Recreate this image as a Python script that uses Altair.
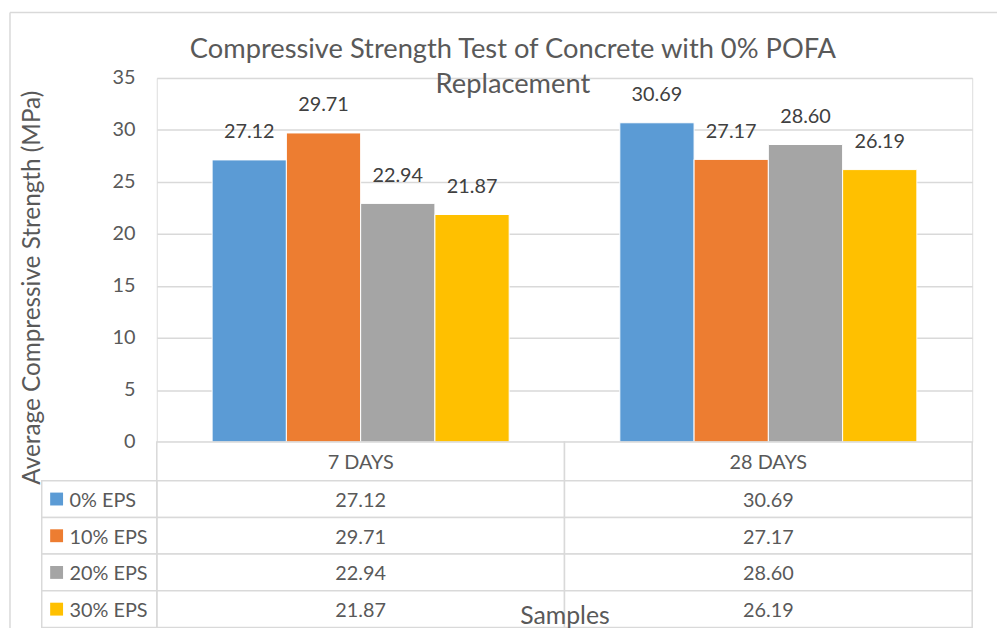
import altair as alt
import pandas as pd

# ---- data ----
categories = ["7 DAYS", "28 DAYS"]
series = ["0% EPS", "10% EPS", "20% EPS", "30% EPS"]
strength_7_days = [27.12, 29.71, 22.94, 21.87]
strength_28_days = [30.69, 27.17, 28.60, 26.19]
series_colors = ["#5B9BD5", "#ED7D31", "#A5A5A5", "#FFC000"]
y_tick_values = [0, 5, 10, 15, 20, 25, 30, 35]
title_lines = ["Compressive Strength Test of Concrete with 0% POFA", "Replacement"]
y_title = "Average Compressive Strength (MPa)"
x_title = "Samples"

rows = []
for cat, vals in zip(categories, [strength_7_days, strength_28_days]):
    for s, v in zip(series, vals):
        rows.append({"Category": cat, "Series": s, "Value": v, "Label": f"{v:.2f}"})
df = pd.DataFrame(rows)
cat_df = pd.DataFrame({"Category": categories})
legend_df = pd.DataFrame({"Series": series})
one_df = pd.DataFrame({"k": [0]})

# ---- style ----
FONT = "Lato"
TEXT = "#595959"
LABEL = "#404040"
LINE = "#d9d9d9"
W, H = 822, 367
TABLE_TOP = H + 39
ROW = 37

x_enc = alt.X(
    "Category:N",
    sort=categories,
    scale=alt.Scale(domain=categories, paddingInner=0, paddingOuter=0),
    axis=alt.Axis(
        title=x_title, labelAngle=0, domain=False, ticks=False, grid=False,
        labelPadding=11, labelFont=FONT, labelFontSize=20, labelColor=TEXT,
        titleFont=FONT, titleFontSize=25, titleFontWeight="normal", titleColor=TEXT,
        titleY=175, titleBaseline="middle", zindex=1,
    ),
)
xoff_enc = alt.XOffset(
    "Series:N", sort=series,
    scale=alt.Scale(domain=series, paddingInner=0, paddingOuter=0.745),
)
color_enc = alt.Color(
    "Series:N", sort=series,
    scale=alt.Scale(domain=series, range=series_colors), legend=None,
)
y_scale = alt.Scale(domain=[0, 35], nice=False, zero=True)
y_enc = alt.Y(
    "Value:Q", scale=y_scale,
    axis=alt.Axis(
        values=y_tick_values, title=y_title, grid=True, gridColor=LINE, gridWidth=1.5,
        domain=False, ticks=False, labelPadding=22, labelFont=FONT, labelFontSize=20,
        labelColor=TEXT, titleFont=FONT, titleFontSize=24.5, titleFontWeight="normal",
        titleColor=TEXT, titleX=-125, titleY=211, titleAngle=270, titleAlign="center",
        titleBaseline="middle",
    ),
)

bars = alt.Chart(df).mark_bar(stroke="white", strokeWidth=1).encode(
    x=x_enc, xOffset=xoff_enc, y=y_enc, color=color_enc
)
bar_labels = alt.Chart(df).mark_text(
    font=FONT, fontSize=20, color=LABEL, dy=-22, baseline="alphabetic"
).encode(x=x_enc, xOffset=xoff_enc, y=alt.Y("Value:Q", scale=y_scale), text="Label:N")
plot_group = alt.layer(bars, bar_labels)

y_tab = alt.Y(
    "Series:N", sort=series,
    scale=alt.Scale(domain=series, range=[TABLE_TOP, TABLE_TOP + 4 * ROW], paddingInner=0, paddingOuter=0),
    axis=None,
)
cell_style = dict(fill="white", stroke=LINE, strokeWidth=1.5)
header_cells = alt.Chart(cat_df).mark_rect(**cell_style).encode(
    x=x_enc, y=alt.value(H), y2=alt.value(TABLE_TOP)
)
value_cells = alt.Chart(df).mark_rect(**cell_style).encode(x=x_enc, y=y_tab)
legend_cells = alt.Chart(legend_df).mark_rect(**cell_style).encode(
    x=alt.value(-116), x2=alt.value(0), y=y_tab
)
legend_squares = alt.Chart(legend_df).mark_square(size=169, filled=True, opacity=1).encode(
    x=alt.value(-101), y=y_tab, color=color_enc
)
legend_text = alt.Chart(legend_df).mark_text(
    align="left", font=FONT, fontSize=20, color=TEXT, dy=2
).encode(x=alt.value(-88), y=y_tab, text="Series:N")
value_text = alt.Chart(df).mark_text(font=FONT, fontSize=20, color=TEXT, dy=2).encode(
    x=x_enc, y=y_tab, text="Label:N"
)
table_group = alt.layer(
    header_cells, value_cells, legend_cells, legend_squares, legend_text, value_text
)

frame_left = alt.Chart(one_df).mark_rule(color=LINE, strokeWidth=1.5).encode(
    x=alt.value(-148), y=alt.value(-66), y2=alt.value(700)
)
frame_top = alt.Chart(one_df).mark_rule(color=LINE, strokeWidth=1.5).encode(
    x=alt.value(-148), x2=alt.value(900), y=alt.value(-66)
)

chart = (
    alt.layer(frame_left, frame_top, plot_group, table_group)
    .resolve_scale(y="independent")
    .properties(
        width=W,
        height=H,
        title=alt.TitleParams(
            text=title_lines, font=FONT, fontSize=27.5, fontWeight="normal", color=TEXT,
            anchor="middle", frame="group", dx=-52, offset=-87, lineHeight=35,
        ),
        padding={"left": 150, "top": 68, "right": 25, "bottom": 185},
        autosize=alt.AutoSizeParams(type="none"),
    )
    .configure_view(strokeWidth=0, stroke="transparent")
    .configure(background="white")
)

chart.save("out.html", embed_options={"renderer": "svg", "actions": False})
